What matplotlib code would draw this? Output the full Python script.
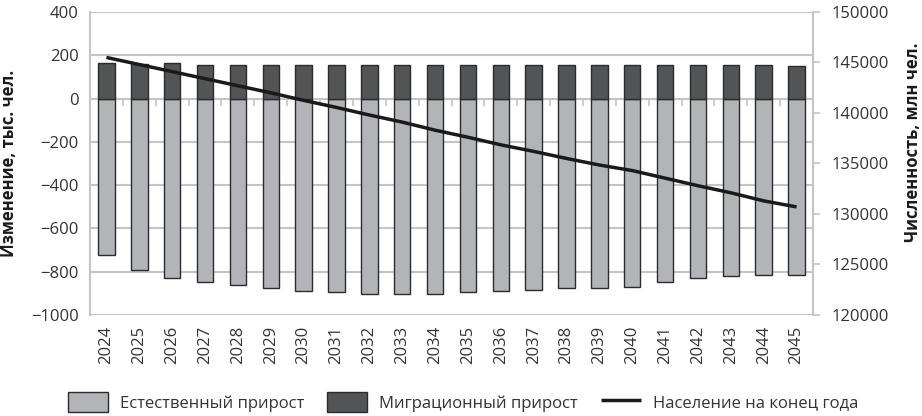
import matplotlib

matplotlib.use("Agg")
import matplotlib.pyplot as plt
import numpy as np

plt.rcParams["font.family"] = ["Open Sans", "DejaVu Sans"]

years = [str(y) for y in range(2024, 2046)]
natural_growth = [-722, -792, -828, -848, -862, -876, -890, -896, -904, -904, -904,
                  -896, -890, -884, -876, -876, -869, -848, -828, -820, -814, -814]
migration_growth = [163, 162, 165, 157, 157, 157, 157, 157, 157, 157, 157,
                    157, 157, 157, 157, 157, 157, 157, 157, 157, 157, 150]
population = [145500, 144800, 144100, 143400, 142700, 142000, 141250, 140550, 139800,
              139100, 138300, 137600, 136850, 136200, 135500, 134850, 134300, 133550,
              132800, 132100, 131300, 130700]

GRID = "#c4c4c6"
TEXT = "#333333"

fig = plt.figure(figsize=(9.22, 4.16), dpi=100)
ax = fig.add_axes([90 / 922, 1 - 315 / 416, (813 - 90) / 922, (315 - 12) / 416])
x = np.arange(len(years))

ax.bar(x, natural_growth, width=0.5, color="#b3b4b8", edgecolor="#2b2b2b", linewidth=1.0,
       label="Естественный прирост", zorder=3)
ax.bar(x, migration_growth, width=0.5, color="#525456", edgecolor="#2b2b2b", linewidth=1.0,
       label="Миграционный прирост", zorder=3)

ax.set_xlim(-0.5, len(years) - 0.5)
ax.set_ylim(-1000, 400)
ax.set_yticks(np.arange(-1000, 401, 200))
ax.set_yticklabels([f"{v}".replace("-", "\u2212") for v in range(-1000, 401, 200)])
ax.yaxis.grid(True, color=GRID, linewidth=1.5, zorder=0)
ax.set_axisbelow(True)
ax.set_xticks(x)
ax.set_xticklabels(years, rotation=90)
ax.tick_params(axis="x", length=0, pad=8, labelsize=12, labelcolor=TEXT)
ax.tick_params(axis="y", length=0, pad=8, labelsize=12, labelcolor=TEXT)
for side in ("top", "bottom"):
    ax.spines[side].set_visible(False)
ax.spines["left"].set_color(GRID)
ax.spines["left"].set_linewidth(1.5)
ax.spines["right"].set_visible(False)
ax.set_ylabel("Изменение, тыс. чел.", fontsize=12, fontweight="bold", color="#1a1a1a")
ax.yaxis.set_label_coords(-0.1, 0.5)

# category axis running through zero, with ticks between categories
zero_pos = (0 - (-1000)) / 1400
sec = ax.secondary_xaxis(zero_pos)
sec.set_xticks(x[:-1] + 0.5)
sec.set_xticklabels([])
sec.xaxis.set_ticks_position("bottom")
sec.tick_params(axis="x", direction="out", length=5, width=1.2, color=GRID,
                labelbottom=False, labeltop=False)
sec.spines["bottom"].set_color(GRID)
sec.spines["bottom"].set_linewidth(1.5)
sec.spines["top"].set_visible(False)

ax2 = ax.twinx()
ax2.plot(x, population, color="#1a1a1a", linewidth=2.5, label="Население на конец года",
         solid_capstyle="butt")
ax2.set_ylim(120000, 150000)
ax2.set_yticks(np.arange(120000, 150001, 5000))
ax2.tick_params(axis="y", direction="out", length=5, width=1.2, color=GRID, pad=8,
                labelsize=12, labelcolor=TEXT)
for side in ("top", "bottom", "left"):
    ax2.spines[side].set_visible(False)
ax2.spines["right"].set_color(GRID)
ax2.spines["right"].set_linewidth(1.5)
ax2.set_ylabel("Численность, млн чел.", fontsize=12, fontweight="bold", color="#1a1a1a")
ax2.yaxis.set_label_coords(1.126, 0.57)

handles = ax.get_legend_handles_labels()[0] + ax2.get_legend_handles_labels()[0]
labels = ax.get_legend_handles_labels()[1] + ax2.get_legend_handles_labels()[1]
leg = fig.legend(handles, labels, loc="center", bbox_to_anchor=(463 / 922, 1 - 402 / 416),
                 ncol=3, frameon=False, fontsize=12, handlelength=2.4, handleheight=1.4,
                 handletextpad=0.7, columnspacing=1.4)
for t in leg.get_texts():
    t.set_color(TEXT)

fig.savefig("out.png", dpi=100)
